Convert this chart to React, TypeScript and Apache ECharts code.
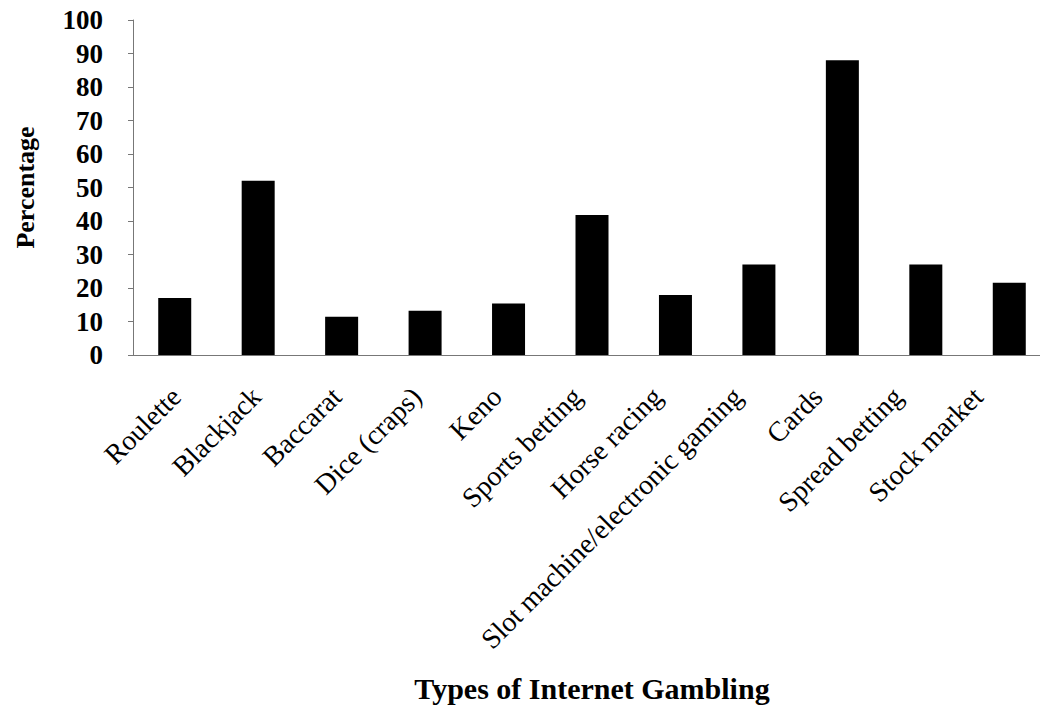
import React, { useEffect, useRef } from "react";
import * as echarts from "echarts";

const categories = [
  "Roulette",
  "Blackjack",
  "Baccarat",
  "Dice (craps)",
  "Keno",
  "Sports betting",
  "Horse racing",
  "Slot machine/electronic gaming",
  "Cards",
  "Spread betting",
  "Stock market",
];
const percentages = [17, 52, 11.4, 13.2, 15.4, 41.8, 17.9, 27, 88, 27, 21.6];
const yMin = 0;
const yMax = 100;
const yStep = 10;

const FONT = "'Liberation Serif', 'Times New Roman', serif";

export default function App() {
  const ref = useRef<HTMLDivElement>(null);
  useEffect(() => {
    if (!ref.current) return;
    const chart = echarts.init(ref.current, null, { renderer: "svg" });
    chart.setOption({
      animation: false,
      backgroundColor: "#ffffff",
      grid: [
        { left: 133, top: 20, width: 918, height: 335 },
        { left: 136, top: 20, width: 882, height: 335 },
      ],
      xAxis: [
        {
          type: "category",
          gridIndex: 0,
          data: categories,
          boundaryGap: true,
          axisLine: { show: true, lineStyle: { color: "#777", width: 1 } },
          axisTick: { show: false },
          axisLabel: { show: false },
          name: "Types of Internet Gambling",
          nameLocation: "middle",
          nameGap: 318,
          nameTextStyle: {
            fontFamily: FONT,
            fontWeight: "bold",
            fontSize: 30,
            color: "#000",
          },
        },
        {
          type: "category",
          gridIndex: 1,
          data: categories,
          boundaryGap: true,
          axisLine: { show: false },
          axisTick: { show: false },
          axisLabel: {
            show: true,
            rotate: 45,
            margin: 37,
            interval: 0,
            fontFamily: FONT,
            fontSize: 28,
            color: "#000",
          },
        },
      ],
      yAxis: [
        {
          type: "value",
          gridIndex: 0,
          min: yMin,
          max: yMax,
          interval: yStep,
          splitLine: { show: false },
          axisLine: { show: true, lineStyle: { color: "#777", width: 1 } },
          axisTick: { show: true, length: 5, lineStyle: { color: "#777" } },
          axisLabel: {
            margin: 30,
            fontFamily: FONT,
            fontWeight: "bold",
            fontSize: 27,
            color: "#000",
          },
          name: "Percentage",
          nameLocation: "middle",
          nameGap: 95,
          nameTextStyle: {
            fontFamily: FONT,
            fontWeight: "bold",
            fontSize: 26,
            color: "#000",
          },
        },
        {
          type: "value",
          gridIndex: 1,
          min: yMin,
          max: yMax,
          show: false,
        },
      ],
      series: [
        {
          type: "bar",
          xAxisIndex: 0,
          yAxisIndex: 0,
          data: percentages,
          barWidth: 33,
          itemStyle: { color: "#000" },
        },
      ],
    });
    return () => chart.dispose();
  }, []);
  return (
    <div
      ref={ref}
      style={{ position: "fixed", left: 0, top: 0, width: 1060, height: 707 }}
    />
  );
}
